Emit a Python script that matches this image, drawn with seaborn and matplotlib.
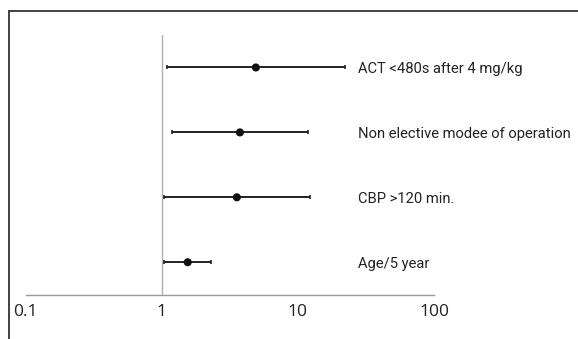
import matplotlib.pyplot as plt
import seaborn as sns
import pandas as pd
from matplotlib.lines import Line2D

labels = ["ACT <480s after 4 mg/kg", "Non elective modee of operation",
          "CBP >120 min.", "Age/5 year"]
odds = [4.91, 3.75, 3.56, 1.55]
lower = [1.09, 1.18, 1.04, 1.04]
upper = [22.1, 11.9, 12.2, 2.28]
ticks = [0.1, 1, 10, 100]
tick_labels = ["0.1", "1", "10", "100"]
LABEL_X = 27.6


def main():
    sns.set_style("white")
    plt.rcParams['font.family'] = ['Open Sans', 'DejaVu Sans']

    rows = list(range(len(labels)))[::-1]
    df = pd.DataFrame({"label": labels, "odds": odds, "lower": lower,
                       "upper": upper, "row": rows})

    W, H = 578, 339
    fig = plt.figure(figsize=(W / 100, H / 100), dpi=100)
    ax = fig.add_axes([25.7 / W, 1 - 294.7 / H,
                       (434 - 25.7) / W, (294.7 - 35) / H])

    ax.axvline(1, color="#b0b0b0", lw=1, zorder=1)
    ax.errorbar(df["odds"], df["row"],
                xerr=[df["odds"] - df["lower"], df["upper"] - df["odds"]],
                fmt="none", ecolor="#222222", elinewidth=1.4,
                capsize=1.5, capthick=1.2, zorder=2)
    sns.scatterplot(data=df, x="odds", y="row", ax=ax, color="#111111",
                    s=34, edgecolor="none", zorder=3)

    for _, r in df.iterrows():
        ax.text(LABEL_X, r["row"] - 0.03, r["label"],
                va="center", ha="left", fontsize=10.6,
                family=["Liberation Sans Narrow", "Roboto", "DejaVu Sans"],
                color="#222222", clip_on=False)

    ax.set_xscale("log")
    ax.set_xlim(0.1, 100)
    ax.set_ylim(-0.5, 3.5)
    ax.set_xticks(ticks, tick_labels)
    ax.minorticks_off()
    ax.set_yticks([])
    ax.set_xlabel("")
    ax.set_ylabel("")
    ax.tick_params(axis="x", direction="in", length=4, width=1,
                   color="#999999", labelsize=12.5, labelcolor="#222222",
                   pad=7)
    for side in ["top", "right", "left"]:
        ax.spines[side].set_visible(False)
    ax.spines["bottom"].set_color("#999999")
    ax.spines["bottom"].set_linewidth(1)
    ax.patch.set_alpha(0)

    # outer frame (left and top edge)
    fig.add_artist(Line2D([8.5 / W, 8.5 / W], [0, 1 - 10.5 / H],
                          color="#333333", lw=1.3))
    fig.add_artist(Line2D([8.5 / W, 1], [1 - 10.5 / H, 1 - 10.5 / H],
                          color="#333333", lw=1.3))

    fig.savefig("out.png", dpi=100)


if __name__ == '__main__':
    main()
